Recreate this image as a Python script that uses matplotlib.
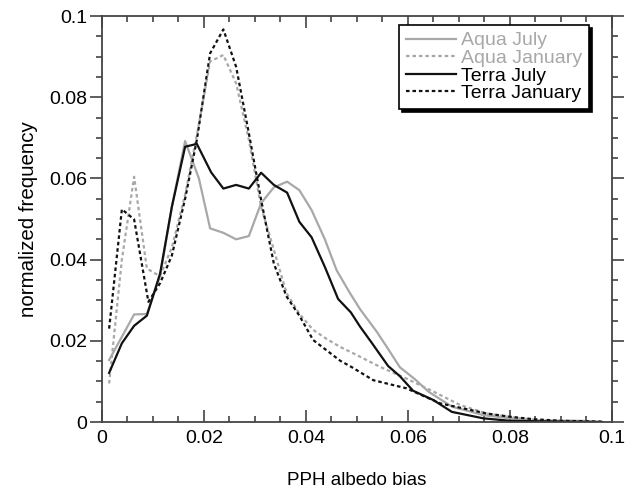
import matplotlib
matplotlib.use('Agg')
import matplotlib.pyplot as plt
from matplotlib.ticker import MultipleLocator

plt.rcParams['font.family'] = ['Liberation Sans', 'DejaVu Sans']

# PPH albedo bias histograms
aqua_jul_x = [0.0014, 0.0039, 0.0063, 0.0088, 0.0114, 0.0137, 0.0163, 0.0190, 0.0212,
              0.0238, 0.0263, 0.0288, 0.0312, 0.0337, 0.0363, 0.0387, 0.0411, 0.0437,
              0.0460, 0.0485, 0.0506, 0.0539, 0.0561, 0.0584, 0.0614, 0.0640, 0.0686,
              0.0748, 0.0800, 0.0845, 0.0940, 0.0980]
aqua_jul_y = [0.0153, 0.0210, 0.0265, 0.0266, 0.0360, 0.0530, 0.0692, 0.0600, 0.0477,
              0.0466, 0.0450, 0.0458, 0.0539, 0.0578, 0.0592, 0.0571, 0.0522, 0.0450,
              0.0374, 0.0320, 0.0278, 0.0222, 0.0180, 0.0135, 0.0105, 0.0075, 0.0038,
              0.0017, 0.0009, 0.0003, 0.0003, 0.0000]

aqua_jan_x = [0.0014, 0.0039, 0.0063, 0.0088, 0.0104, 0.0114, 0.0137, 0.0163, 0.0188,
              0.0212, 0.0238, 0.0263, 0.0288, 0.0312, 0.0337, 0.0362, 0.0388, 0.0414,
              0.0440, 0.0467, 0.0493, 0.0545, 0.0597, 0.0650, 0.0702, 0.0754, 0.0807,
              0.0860, 0.0940]
aqua_jan_y = [0.0095, 0.0400, 0.0604, 0.0378, 0.0366, 0.0360, 0.0430, 0.0560, 0.0720,
              0.0888, 0.0904, 0.0834, 0.0695, 0.0530, 0.0424, 0.0317, 0.0265, 0.0227,
              0.0205, 0.0185, 0.0169, 0.0136, 0.0107, 0.0075, 0.0042, 0.0021, 0.0011,
              0.0004, 0.0002]

terra_jul_x = [0.0014, 0.0039, 0.0063, 0.0088, 0.0114, 0.0137, 0.0163, 0.0186, 0.0214,
               0.0238, 0.0263, 0.0288, 0.0312, 0.0337, 0.0363, 0.0387, 0.0411, 0.0437,
               0.0463, 0.0488, 0.0506, 0.0529, 0.0561, 0.0584, 0.0610, 0.0650, 0.0686,
               0.0748, 0.0800, 0.0900, 0.0980]
terra_jul_y = [0.0121, 0.0194, 0.0237, 0.0262, 0.0366, 0.0530, 0.0678, 0.0685, 0.0615,
               0.0575, 0.0584, 0.0575, 0.0614, 0.0584, 0.0565, 0.0493, 0.0455, 0.0382,
               0.0303, 0.0270, 0.0235, 0.0195, 0.0138, 0.0113, 0.0077, 0.0054, 0.0025,
               0.0009, 0.0003, 0.0001, 0.0000]

terra_jan_x = [0.0014, 0.0039, 0.0063, 0.0091, 0.0114, 0.0137, 0.0163, 0.0186, 0.0212,
               0.0238, 0.0263, 0.0288, 0.0312, 0.0337, 0.0362, 0.0387, 0.0414, 0.0440,
               0.0467, 0.0490, 0.0532, 0.0597, 0.0663, 0.0754, 0.0800, 0.0846, 0.0900,
               0.0980]
terra_jan_y = [0.0230, 0.0524, 0.0499, 0.0296, 0.0342, 0.0410, 0.0550, 0.0695, 0.0908,
               0.0967, 0.0875, 0.0711, 0.0547, 0.0390, 0.0309, 0.0262, 0.0202, 0.0177,
               0.0151, 0.0135, 0.0103, 0.0083, 0.0046, 0.0021, 0.0013, 0.0007, 0.0003,
               0.0001]

x_ticks = [0, 0.02, 0.04, 0.06, 0.08, 0.1]
x_tick_labels = ['0', '0.02', '0.04', '0.06', '0.08', '0.1']
y_ticks = [0, 0.02, 0.04, 0.06, 0.08, 0.1]
y_tick_labels = ['0', '0.02', '0.04', '0.06', '0.08', '0.1']

gray = '#a8a8a8'
dots = (0, (1.6, 1.3))

fig = plt.figure(figsize=(6.28, 4.94), dpi=100)
ax = fig.add_axes([0.1624, 0.1457, 0.8121, 0.8219])

ax.plot(aqua_jul_x, aqua_jul_y, color=gray, lw=1.6, label='Aqua July')
ax.plot(aqua_jan_x, aqua_jan_y, color=gray, lw=1.6, ls=dots, label='Aqua January')
ax.plot(terra_jul_x, terra_jul_y, color='#111111', lw=1.6, label='Terra July')
ax.plot(terra_jan_x, terra_jan_y, color='#111111', lw=1.6, ls=dots, label='Terra January')

ax.set_xlim(0, 0.1)
ax.set_ylim(0, 0.1)
ax.set_xticks(x_ticks)
ax.set_xticklabels(x_tick_labels)
ax.set_yticks(y_ticks)
ax.set_yticklabels(y_tick_labels)
ax.xaxis.set_minor_locator(MultipleLocator(0.005))
ax.yaxis.set_minor_locator(MultipleLocator(0.005))
ax.tick_params(which='both', top=True, right=True, width=1.1, color='#333333', labelsize=14)
ax.tick_params(axis='x', which='both', direction='in')
ax.tick_params(axis='y', which='both', direction='out')
ax.tick_params(which='major', length=8.5)
ax.tick_params(which='minor', length=4)
ax.tick_params(axis='x', which='major', pad=6)
ax.tick_params(axis='y', which='major', pad=2)
for sp in ax.spines.values():
    sp.set_linewidth(1.3)
    sp.set_color('#444444')

ax.set_xlabel('PPH albedo bias', fontsize=13.5, labelpad=18)
ax.set_ylabel('normalized frequency', fontsize=14.8, labelpad=8)

leg = ax.legend(loc='upper right', bbox_to_anchor=(0.955, 0.978), borderaxespad=0,
                fontsize=14, frameon=True, fancybox=False, shadow={'color': 'black', 'alpha': 1},
                edgecolor='black', framealpha=1, handlelength=2.6, handletextpad=0.25,
                labelspacing=0.0, borderpad=0.35)
leg.get_frame().set_linewidth(1.2)
for txt, c in zip(leg.get_texts(), [gray, gray, 'black', 'black']):
    txt.set_color(c)

fig.savefig('out.png', dpi=100)
